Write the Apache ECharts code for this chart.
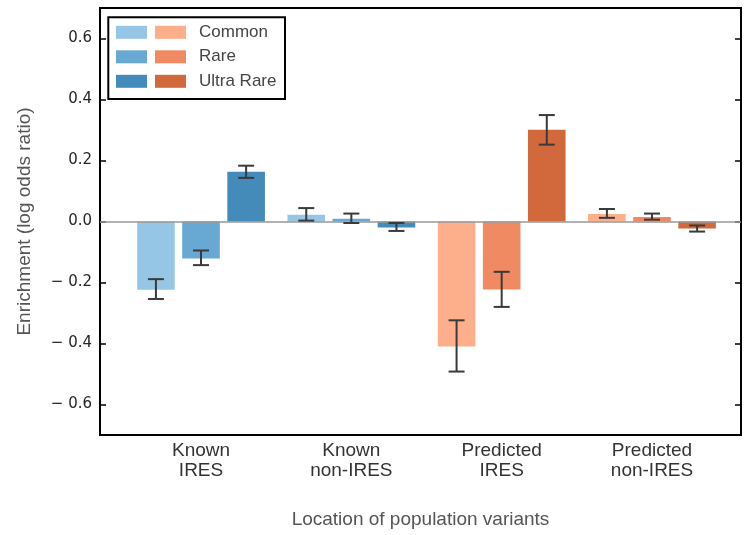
<!DOCTYPE html>
<html><head><meta charset="utf-8">
<script src="https://cdn.jsdelivr.net/npm/echarts@6/dist/echarts.min.js"></script>
<style>html,body{margin:0;padding:0;background:#fff}#c{width:746px;height:535px}</style>
</head><body><div id="c"></div>
<script>
// ---- data ----
const categories = ['Known\nIRES', 'Known\nnon-IRES', 'Predicted\nIRES', 'Predicted\nnon-IRES'];
const rarityClasses = ['Common', 'Rare', 'Ultra Rare'];
const yTicks = [-0.6, -0.4, -0.2, 0, 0.2, 0.4, 0.6];
// enrichment per group: [Common, Rare, Ultra Rare]
const knownIres = [-0.224, -0.121, 0.163];
const knownNonIres = [0.022, 0.009, -0.020];
const predictedIres = [-0.410, -0.223, 0.301];
const predictedNonIres = [0.025, 0.015, -0.023];
// error bars [low, high] per group
const knownIresErr = [[-0.254, -0.189], [-0.143, -0.095], [0.143, 0.183]];
const knownNonIresErr = [[0.003, 0.044], [-0.005, 0.026], [-0.031, -0.005]];
const predictedIresErr = [[-0.492, -0.324], [-0.280, -0.165], [0.252, 0.349]];
const predictedNonIresErr = [[0.012, 0.041], [0.006, 0.026], [-0.033, -0.013]];

// ---- layout / style ----
const barOffsets = [-0.3, 0, 0.3];
const blueColors = ['#96c6e6', '#67a9d2', '#448bba'];
const orangeColors = ['#fdae8b', '#ef8a62', '#d2693c'];

const groupVals = [knownIres, knownNonIres, predictedIres, predictedNonIres];
const groupErrs = [knownIresErr, knownNonIresErr, predictedIresErr, predictedNonIresErr];

const series = [];
const blueNames = rarityClasses.map(r => r + ' (known)');
rarityClasses.forEach((r, i) => {
  series.push({
    name: blueNames[i], type: 'bar', barWidth: 37.6, barGap: '-100%',
    itemStyle: { color: blueColors[i] },
    data: [0, 1].map(g => [g + barOffsets[i], groupVals[g][i]])
  });
});
rarityClasses.forEach((r, i) => {
  series.push({
    name: r, type: 'bar', barWidth: 37.6, barGap: '-100%',
    itemStyle: { color: orangeColors[i] },
    data: [2, 3].map(g => [g + barOffsets[i], groupVals[g][i]])
  });
});
series[series.length - 1].markLine = {
  silent: true, symbol: 'none', animation: false,
  label: { show: false },
  lineStyle: { color: '#999', width: 1.6, type: 'solid' },
  data: [{ yAxis: 0 }]
};
const errData = [];
groupErrs.forEach((ge, g) => ge.forEach((e, i) => errData.push([g + barOffsets[i], e[0], e[1]])));
series.push({
  type: 'custom', name: 'err', z: 10, silent: true,
  data: errData,
  encode: { x: 0, y: [1, 2] },
  renderItem(params, api) {
    const x = api.value(0), lo = api.value(1), hi = api.value(2);
    const a = api.coord([x, lo]), b = api.coord([x, hi]);
    const hw = 8;
    const style = { stroke: '#3a3a3a', lineWidth: 2 };
    return { type: 'group', children: [
      { type: 'line', shape: { x1: a[0], y1: a[1], x2: b[0], y2: b[1] }, style },
      { type: 'line', shape: { x1: a[0] - hw, y1: a[1], x2: a[0] + hw, y2: a[1] }, style },
      { type: 'line', shape: { x1: b[0] - hw, y1: b[1], x2: b[0] + hw, y2: b[1] }, style }
    ]};
  }
});

const fmtY = v => (v < -1e-9 ? '\u2212 ' : '') + Math.abs(v).toFixed(1);

const chart = echarts.init(document.getElementById('c'), null, { renderer: 'canvas' });
chart.setOption({
  animation: false,
  textStyle: { fontFamily: 'Liberation Sans' },
  grid: { left: 100, right: 5, top: 8, bottom: 100, show: true, borderColor: '#000', borderWidth: 2, containLabel: false, outerBoundsMode: 'none' },
  xAxis: {
    type: 'value', min: -0.672, max: 3.592,
    axisLine: { show: false, onZero: false }, axisTick: { show: false }, splitLine: { show: false },
    axisLabel: {
      customValues: [0, 1, 2, 3],
      formatter: v => categories[Math.round(v)],
      fontSize: 19, lineHeight: 20, margin: 6, color: '#333', fontFamily: 'Liberation Sans'
    },
    name: 'Location of population variants', nameLocation: 'middle', nameGap: 75,
    nameTextStyle: { fontSize: 19, color: '#555', fontFamily: 'Liberation Sans' }
  },
  yAxis: [{
    type: 'value', min: -0.7, max: 0.7, position: 'left',
    axisLine: { show: false, onZero: false }, splitLine: { show: false },
    axisTick: { inside: true, length: 6, customValues: yTicks, lineStyle: { color: '#000', width: 1.5 } },
    axisLabel: { customValues: yTicks, formatter: fmtY, fontFamily: 'DejaVu Sans', fontSize: 15, margin: 8, color: '#262626' },
    name: 'Enrichment (log odds ratio)', nameLocation: 'middle', nameGap: 66,
    nameTextStyle: { fontSize: 19, color: '#555', fontFamily: 'Liberation Sans' }
  }, {
    type: 'value', min: -0.7, max: 0.7, position: 'right',
    axisLine: { show: false, onZero: false }, splitLine: { show: false },
    axisTick: { inside: true, length: 6, customValues: yTicks, lineStyle: { color: '#000', width: 1.5 } },
    axisLabel: { show: false }
  }],
  legend: [{
    left: 116, top: 23.8, orient: 'vertical', padding: 0, icon: 'rect',
    itemWidth: 31, itemHeight: 13, itemGap: 7.5, data: blueNames,
    formatter: () => ' ', textStyle: { fontSize: 17, lineHeight: 17 }, z: 10
  }, {
    left: 155, top: 23.8, orient: 'vertical', padding: 0, icon: 'rect',
    itemWidth: 31, itemHeight: 13, itemGap: 7.5, data: rarityClasses,
    textStyle: { fontSize: 17, lineHeight: 17, color: '#444', fontFamily: 'Liberation Sans', padding: [0, 0, 0, 8] }, z: 10
  }],
  graphic: [{
    type: 'rect', z: 5, silent: true,
    shape: { x: 108.3, y: 17.3, width: 176.7, height: 81.7 },
    style: { fill: '#fff', stroke: '#000', lineWidth: 2 }
  }],
  series
});
</script></body></html>
